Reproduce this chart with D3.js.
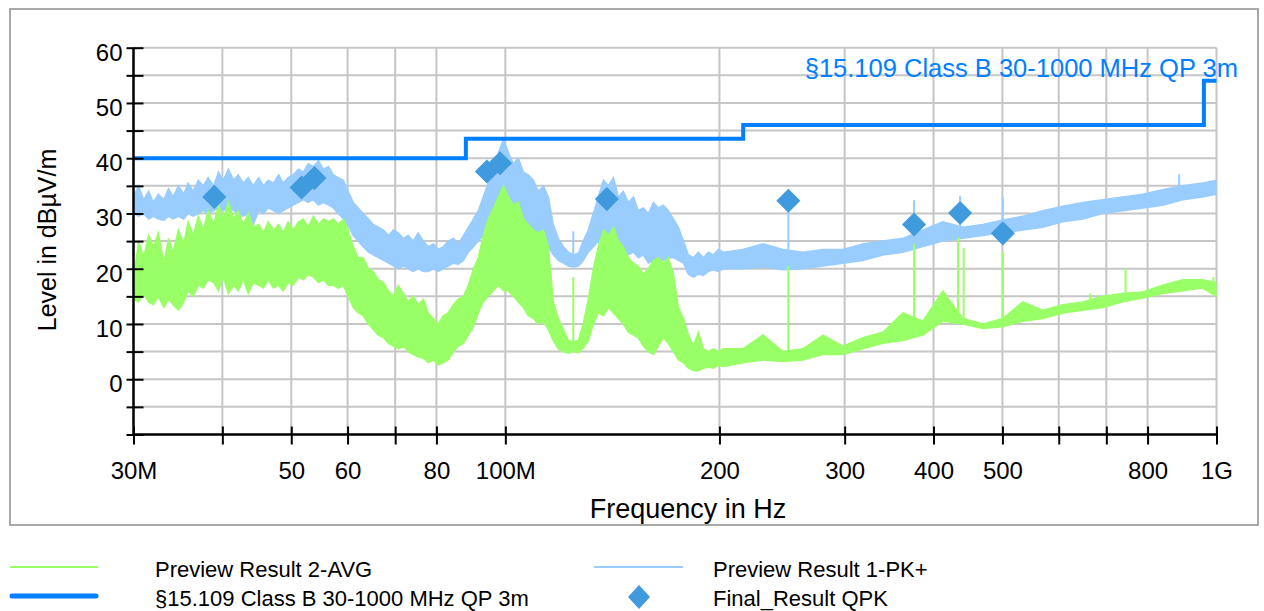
<!DOCTYPE html>
<html>
<head>
<meta charset="utf-8">
<script src="https://cdn.jsdelivr.net/npm/d3@7/dist/d3.min.js"></script>
<style>
  body { margin: 0; background: #fff; }
  svg text { font-family: "Liberation Sans", Arial, sans-serif; fill: #000; }
</style>
</head>
<body>
<script>
// sweep frequencies in MHz
var freqs = [30.0,30.5,31.0,31.5,32.0,32.5,33.1,33.6,34.1,34.7,35.3,35.8,36.4,37.0,37.6,38.2,38.9,39.5,40.1,40.8,
  41.5,42.1,42.8,43.5,44.2,45.0,45.7,46.4,47.2,48.0,48.7,49.5,50.3,51.2,52.0,52.8,53.7,54.6,55.5,56.4,
  57.3,58.2,59.2,60.1,61.1,62.1,63.1,64.2,65.2,66.3,67.4,68.5,69.6,70.7,71.9,73.0,74.2,75.4,76.7,77.9,
  79.2,80.5,81.8,83.1,84.5,85.9,87.3,88.7,90.2,91.6,93.1,94.6,96.2,97.8,99.4,101.0,102.6,104.3,106.0,107.7,
  109.5,111.3,113.1,114.9,116.8,118.7,120.7,122.6,124.6,126.7,128.7,130.8,133.0,135.1,137.4,139.6,141.9,144.2,146.5,148.9,
  151.4,153.8,156.3,158.9,161.5,164.1,166.8,169.5,172.3,175.1,178.0,180.9,183.8,186.8,189.9,193.0,196.1,199.3,202.6,
  215.8,230.3,245.7,262.1,279.7,298.3,318.3,339.6,362.3,386.5,412.3,439.9,469.3,500.7,534.1,569.8,607.9,648.5,691.8,738.1,
  787.4,840.0,896.2,956.1,1000];

// Preview Result 1-PK+ : lower / upper edge of the noisy trace (dBuV/m)
var pkLo = [30,29.5,30,29,29.5,29,28.8,29.5,29,29.5,29,30,29.5,30,30.5,30,30.5,31,30.5,31,
  30.5,30,29.5,30,28,30.5,30,31,30.5,30,30.5,31,31.5,32,32.5,32,32.5,31.5,32,31.5,
  31,30,29,28,26,25,24,23,22.5,22,21.5,21,20.5,20,20.5,20,19.5,20,19.5,19.5,
  20,19.5,20,20.5,21,20.8,21.5,23,24,25,26,27,28,29,28,27,26,25,24.5,25,
  24.5,25.5,25,24,22.5,21.5,21,20.5,20.3,20.5,21.5,23,24,25,24.5,25,24.5,24,23,22.5,
  23,22,22.5,21,21.5,22,21.5,22,22,21.5,21,19,18.5,19,18.8,19.5,19.8,19.5,20,
  20,20.3,19.8,20,20.5,21,21.5,22.5,23,24,25,25.5,26,26.5,27,27.5,28.5,29,30,30.5,
  31,31.5,32.5,33,33.5];
var pkHi = [33,35,32.5,34,32,33.5,32.5,34.5,33,35,33.5,35.5,34,36,35,36.5,35,37.5,36,38,
  36,37,35.5,36.5,35,36.5,35,36,35.5,37,35.5,36.5,37,38,37.5,39,38.5,39.5,38,38.5,
  37,36.5,36,34,32,31,30,29,28,27.5,27,26,27,26.5,25.5,26,25,26.5,25,24,
  24.5,23.5,24,25,25.5,24.5,26,27.5,29,30.5,33,35.5,38,41,43.5,41,39,40,37.5,37,
  36,34,35,33,28,25.5,24,23,22.5,22.8,25,27,30,33,36,35,36.5,33,34,32,
  33,30.5,31,30,32,31,31.5,30.5,29,27.5,25,22.5,22,23,22,23,22.5,23.5,23,
  23.5,24.5,23.5,23,23.5,23.5,24.5,25,25.5,27,28.5,27.5,28,28.8,29.5,30.5,31.3,32,32.5,33,
  33.5,34.3,35,35.5,36];

// Preview Result 2-AVG
var avgLo = [14.5,14,15.5,14,13.5,15,13,14.5,13.5,12.5,14,16,15,17,16.5,18,17.5,16,18.5,15.5,
  17,16,18,15.5,17.5,17,16.5,18,16.5,17,16,17.5,17,18.5,18,19,18.5,17.5,18,17,
  17,16.5,17,15,13,12,11.5,10,9,8,7.5,6.5,6,5.5,6,5,4.5,4,3.8,3,
  3.5,2.6,3,3.5,5,6,6.5,8,9.5,12,14,15,16,17,16,16,15,14,13,11.5,
  11,10,10.5,9,7,5.5,5,4.7,5,4.8,5.6,7,10,12,11.5,13,12,11,10,8.5,
  8,7.5,6,5,4.5,6,7.5,6.5,5,3.5,3,2,1.6,1.5,2,2.2,2,2.5,2.3,
  3,3.5,3.2,3.5,4.5,4.5,5.5,6.5,7,8,10.5,10,9.2,9.5,10.5,11,12,12.5,13,14,
  14.7,15.5,16,16.5,15];
var avgHi = [18,25,22,26,24,26.5,21,25.5,23,27,24.5,28.5,26,29.5,27,30.5,28,31.5,29,32,
  29,30.5,28,30,27.5,28,26.5,28.5,27,28,26.5,28.5,27,28.5,29,27.5,29.5,28,29,28.5,
  29,28,29,27,24,22,22,20,19.5,18,17.5,16,15,17,15.5,14,15,13.5,14.5,12,
  11,10,11.5,12,13.5,14.5,15,17,20,22,26,29,31,33,35,33,31.5,32,29,28,
  27,26.5,27,24,14,11,9,7,6.8,7,10,14.5,20,24,27,26,27.5,25,24,22,
  21,20.5,19,20,21.5,22,21,22,19,13,11,8,6,8.5,5.5,5,5.5,5,5.5,
  5.5,8,5,5.5,8,6,7.5,8.5,12,10.5,16,11,10,11,14,12.5,13.5,14,15,15.5,
  15.8,17,18,18,17.5];

// narrow single-frequency spikes
var pkSpikeFreq = [124.6, 250, 375.6, 436, 500.7, 886];
var pkSpikeBase = [21, 21, 24, 26, 27, 33];
var pkSpikeTop  = [26.8, 32, 32.4, 33.2, 32.9, 37.1];
var avgSpikeFreq = [124.6, 250, 375.6, 433, 441, 500.7, 665, 745, 990];
var avgSpikeBase = [5, 4, 8.5, 10, 10, 9.5, 13, 14.5, 16];
var avgSpikeTop  = [18.5, 20.5, 24.5, 25.8, 23.8, 23, 15.5, 20, 18.5];

// Final_Result QPK
var qpkFreq  = [38.97, 51.7, 53.9, 94.2, 98.3, 138.9, 250, 375.6, 436, 500.7];
var qpkLevel = [33.0, 34.7, 36.4, 37.6, 39.1, 32.6, 32.3, 28.0, 30.1, 26.4];

// §15.109 Class B limit
var limitFreq  = [30, 88, 88, 216, 216, 960, 960, 1000];
var limitLevel = [40, 40, 43.5, 43.5, 46, 46, 54, 54];

var xTicks = [30, 40, 50, 60, 70, 80, 100, 200, 300, 400, 500, 600, 700, 800, 1000];
var xTickText = {30: "30M", 50: "50", 60: "60", 80: "80", 100: "100M", 200: "200",
                 300: "300", 400: "400", 500: "500", 800: "800", 1000: "1G"};
var yTicks = [-10, -5, 0, 5, 10, 15, 20, 25, 30, 35, 40, 45, 50, 55, 60];
var yTickText = [0, 10, 20, 30, 40, 50, 60];

var colAvg = "#99ff66", colPk = "#99ccff", colLimit = "#0080ff", colQpk = "#409ade";

var W = 1264, H = 611;
var svg = d3.select("body").append("svg")
    .attr("width", W)
    .attr("height", H);

// outer frame
svg.append("rect")
    .attr("x", 10).attr("y", 9)
    .attr("width", 1248).attr("height", 516)
    .attr("fill", "none")
    .attr("stroke", "#a9a9a9")
    .attr("stroke-width", 2);

var x = d3.scaleLog().domain([30, 1000]).range([133.5, 1216.5]);
var y = d3.scaleLinear().domain([-10, 60]).range([434.5, 47.7]);

// grid
var grid = svg.append("g").attr("stroke", "#c6c6c6").attr("stroke-width", 2);
grid.selectAll(".gx")
    .data(xTicks.filter(function(d) { return d > 30; }))
  .enter().append("line")
    .attr("x1", function(d) { return x(d); })
    .attr("x2", function(d) { return x(d); })
    .attr("y1", y(60)).attr("y2", y(-10));
grid.selectAll(".gy")
    .data(yTicks.filter(function(d) { return d > -10; }))
  .enter().append("line")
    .attr("x1", x(30)).attr("x2", x(1000))
    .attr("y1", function(d) { return y(d); })
    .attr("y2", function(d) { return y(d); });

svg.append("clipPath").attr("id", "plot")
  .append("rect")
    .attr("x", x(30)).attr("y", y(60))
    .attr("width", x(1000) - x(30)).attr("height", y(-10) - y(60));

var plot = svg.append("g").attr("clip-path", "url(#plot)");

function band(lo, hi) {
  return freqs.map(function(f, i) { return {f: f, lo: lo[i], hi: hi[i]}; });
}
var area = d3.area()
    .x(function(d) { return x(d.f); })
    .y0(function(d) { return y(d.lo); })
    .y1(function(d) { return y(d.hi); });

function drawTrace(data, color, sf, sb, st) {
  plot.append("path")
      .datum(data)
      .attr("d", area)
      .attr("fill", color)
      .attr("stroke", color)
      .attr("stroke-width", 1.5);
  plot.append("g").selectAll("line")
      .data(sf)
    .enter().append("line")
      .attr("x1", function(d) { return x(d); })
      .attr("x2", function(d) { return x(d); })
      .attr("y1", function(d, i) { return y(sb[i]); })
      .attr("y2", function(d, i) { return y(st[i]); })
      .attr("stroke", color)
      .attr("stroke-width", 2);
}

drawTrace(band(pkLo, pkHi), colPk, pkSpikeFreq, pkSpikeBase, pkSpikeTop);
drawTrace(band(avgLo, avgHi), colAvg, avgSpikeFreq, avgSpikeBase, avgSpikeTop);

// limit line
var limitLine = d3.line()
    .x(function(d, i) { return x(limitFreq[i]); })
    .y(function(d) { return y(d); });
svg.append("path")
    .attr("d", limitLine(limitLevel))
    .attr("fill", "none")
    .attr("stroke", colLimit)
    .attr("stroke-width", 4);

svg.append("text")
    .attr("x", 1238).attr("y", 77)
    .attr("text-anchor", "end")
    .style("font-size", "25.5px")
    .style("fill", colLimit)
    .text("§15.109 Class B 30-1000 MHz QP 3m");

// QPK diamonds
var diamond = d3.symbol().type(d3.symbolSquare).size(290);
svg.append("g").selectAll("path")
    .data(qpkFreq)
  .enter().append("path")
    .attr("d", diamond)
    .attr("transform", function(d, i) {
      return "translate(" + x(d) + "," + y(qpkLevel[i]) + ") rotate(45)"; })
    .attr("fill", colQpk);

// axes
var xAxis = svg.append("g")
    .attr("transform", "translate(0," + y(-10) + ")")
    .call(d3.axisBottom(x).tickValues(xTicks).tickSize(10).tickPadding(0)
      .tickFormat(function(d) { return xTickText[d] || ""; }));
xAxis.select(".domain").attr("stroke-width", 2.5).attr("d", "M" + x(30) + ",0H" + x(1000));
xAxis.selectAll(".tick line").attr("y1", -8).attr("y2", 10).attr("stroke-width", 2);
xAxis.selectAll(".tick text").attr("y", 44).attr("dy", 0)
    .style("font-size", "24px");

var yAxis = svg.append("g")
    .attr("transform", "translate(" + x(30) + ",0)")
    .call(d3.axisLeft(y).tickValues(yTicks).tickSize(7).tickPadding(0)
      .tickFormat(function(d) { return yTickText.indexOf(d) >= 0 ? d : ""; }));
yAxis.select(".domain").attr("stroke-width", 2.5).attr("d", "M0," + y(60) + "V" + y(-10));
yAxis.selectAll(".tick line").attr("x1", -7).attr("x2", 10).attr("stroke-width", 2);
yAxis.selectAll(".tick text").attr("x", -11).attr("dy", 12.5)
    .style("font-size", "24px");
svg.selectAll(".tick text").style("fill", "#000");

// axis titles
svg.append("text")
    .attr("x", 688).attr("y", 518)
    .attr("text-anchor", "middle")
    .style("font-size", "27px")
    .text("Frequency in Hz");
svg.append("text")
    .attr("transform", "translate(56,240) rotate(-90)")
    .attr("text-anchor", "middle")
    .style("font-size", "25px")
    .text("Level in dBµV/m");

// legend
var legend = svg.append("g");
legend.append("line").attr("x1", 10).attr("x2", 98).attr("y1", 567).attr("y2", 567)
    .attr("stroke", colAvg).attr("stroke-width", 2);
legend.append("text").attr("x", 155).attr("y", 577).style("font-size", "22px")
    .text("Preview Result 2-AVG");
legend.append("line").attr("x1", 12).attr("x2", 96).attr("y1", 596).attr("y2", 596)
    .attr("stroke", colLimit).attr("stroke-width", 5).attr("stroke-linecap", "round");
legend.append("text").attr("x", 155).attr("y", 606).style("font-size", "22px")
    .text("§15.109 Class B 30-1000 MHz QP 3m");
legend.append("line").attr("x1", 594).attr("x2", 683).attr("y1", 567).attr("y2", 567)
    .attr("stroke", colPk).attr("stroke-width", 2);
legend.append("text").attr("x", 713).attr("y", 577).style("font-size", "22px")
    .text("Preview Result 1-PK+");
legend.append("path")
    .attr("d", "M0,-12L11,0L0,12L-11,0Z")
    .attr("transform", "translate(639,597)")
    .attr("fill", colQpk);
legend.append("text").attr("x", 713).attr("y", 606).style("font-size", "22px")
    .text("Final_Result QPK");
</script>
</body>
</html>
